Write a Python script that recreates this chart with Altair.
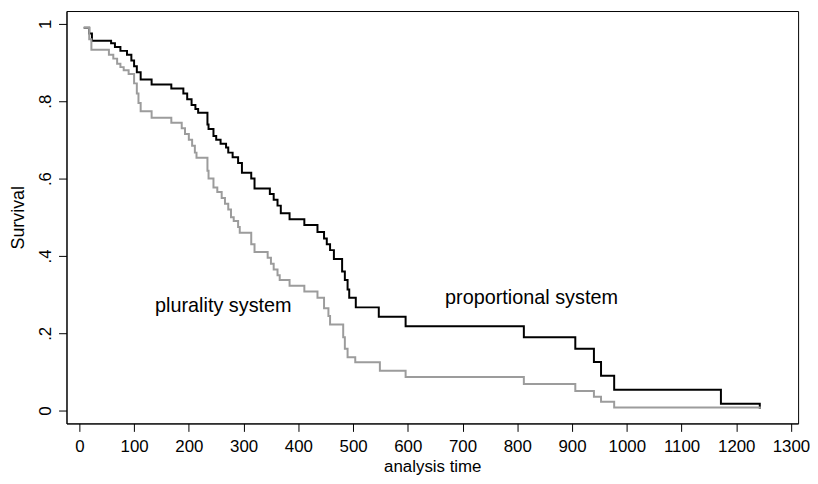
import altair as alt
import pandas as pd

# Kaplan-Meier step points
prop_time = [8, 18, 23, 58, 65, 75, 87, 95, 100, 105, 112, 132, 168, 190, 197, 205, 212, 217,
             234, 236, 245, 250, 258, 268, 272, 280, 290, 297, 314, 320, 348, 355, 362, 368,
             384, 411, 435, 447, 452, 458, 465, 480, 485, 490, 493, 505, 547, 596, 812, 906,
             940, 953, 977, 1172, 1243]
prop_surv = [0.99, 0.975, 0.956, 0.95, 0.94, 0.93, 0.92, 0.905, 0.89, 0.875, 0.856, 0.843, 0.833,
             0.82, 0.805, 0.79, 0.78, 0.77, 0.74, 0.728, 0.71, 0.70, 0.69, 0.68, 0.667, 0.655,
             0.64, 0.615, 0.60, 0.574, 0.56, 0.545, 0.53, 0.51, 0.495, 0.48, 0.462, 0.445,
             0.43, 0.415, 0.392, 0.36, 0.338, 0.313, 0.292, 0.267, 0.243, 0.218, 0.19, 0.16,
             0.126, 0.09, 0.054, 0.018, 0.005]

plur_time = [8, 18, 22, 54, 62, 69, 75, 81, 90, 100, 105, 108, 112, 132, 168, 187, 193, 200,
             206, 211, 214, 234, 236, 245, 252, 260, 266, 272, 277, 282, 290, 293, 314, 320,
             344, 350, 355, 362, 366, 384, 411, 435, 447, 455, 458, 482, 485, 490, 504, 549,
             596, 812, 906, 940, 953, 977, 1243]
plur_surv = [0.99, 0.96, 0.933, 0.92, 0.91, 0.897, 0.888, 0.88, 0.87, 0.846, 0.82, 0.795, 0.774,
             0.757, 0.744, 0.73, 0.715, 0.70, 0.685, 0.667, 0.654, 0.62, 0.60, 0.577, 0.565,
             0.55, 0.535, 0.52, 0.50, 0.49, 0.475, 0.46, 0.43, 0.41, 0.395, 0.38, 0.365, 0.35,
             0.338, 0.323, 0.308, 0.292, 0.265, 0.245, 0.223, 0.19, 0.16, 0.138, 0.125, 0.103,
             0.087, 0.069, 0.051, 0.036, 0.023, 0.008, 0.005]

series_names = ["proportional system", "plurality system"]
series_colors = ["#000000", "#9c9c9c"]

x_ticks = list(range(0, 1301, 100))
y_ticks = [0, 0.2, 0.4, 0.6, 0.8, 1.0]
y_labels = ["0", ".2", ".4", ".6", ".8", "1"]

label_text = ["plurality system", "proportional system"]
label_time = [263, 826]
label_surv = [0.27, 0.29]

FONT = "Liberation Sans"

rows = []
for i, (t, s) in enumerate(zip(prop_time, prop_surv)):
    rows.append({"time": t, "surv": s, "group": series_names[0], "order": i})
for i, (t, s) in enumerate(zip(plur_time, plur_surv)):
    rows.append({"time": t, "surv": s, "group": series_names[1], "order": i})
df = pd.DataFrame(rows)

labels_df = pd.DataFrame({"text": label_text, "time": label_time, "surv": label_surv})

y_expr = ""
for v, l in zip(y_ticks, y_labels):
    y_expr += f"abs(datum.value - {v}) < 1e-6 ? '{l}' : "
y_expr += "''"

x_scale = alt.Scale(domain=[-23.5, 1313], nice=False, zero=False)
y_scale = alt.Scale(domain=[-0.033, 1.033], nice=False, zero=False)

lines = alt.Chart(df).mark_line(interpolate="step-after", strokeWidth=2).encode(
    x=alt.X("time:Q", scale=x_scale,
            axis=alt.Axis(values=x_ticks, format="d", title="analysis time", grid=False,
                          labelFontSize=17, titleFontSize=17, titleFontWeight="normal",
                          labelFont=FONT, titleFont=FONT, tickSize=8, tickColor="black",
                          domainColor="black", labelColor="black", titleColor="black",
                          labelPadding=7, titlePadding=4, labelFlush=False)),
    y=alt.Y("surv:Q", scale=y_scale,
            axis=alt.Axis(values=y_ticks, title="Survival", grid=False, labelExpr=y_expr,
                          labelAngle=-90, labelAlign="center", labelBaseline="bottom",
                          labelFontSize=17, titleFontSize=18, titleFontWeight="normal",
                          labelFont=FONT, titleFont=FONT, tickSize=8, tickColor="black",
                          domainColor="black", labelColor="black", titleColor="black",
                          labelPadding=4, titlePadding=9, labelFlush=False)),
    color=alt.Color("group:N", scale=alt.Scale(domain=series_names, range=series_colors),
                    legend=None),
    detail="group:N",
    order="order:Q",
)

texts = alt.Chart(labels_df).mark_text(fontSize=20, font=FONT, color="black",
                                       align="center", baseline="middle").encode(
    x=alt.X("time:Q", scale=x_scale),
    y=alt.Y("surv:Q", scale=y_scale),
    text="text:N",
)

chart = alt.layer(lines, texts).properties(
    width=738, height=416,
    autosize=alt.AutoSizeParams(type="none"),
    padding={"left": 59, "top": 1, "right": 12, "bottom": 55},
).configure_view(stroke="black", strokeWidth=1)

chart.save("out.html", embed_options={"renderer": "svg", "actions": False})
